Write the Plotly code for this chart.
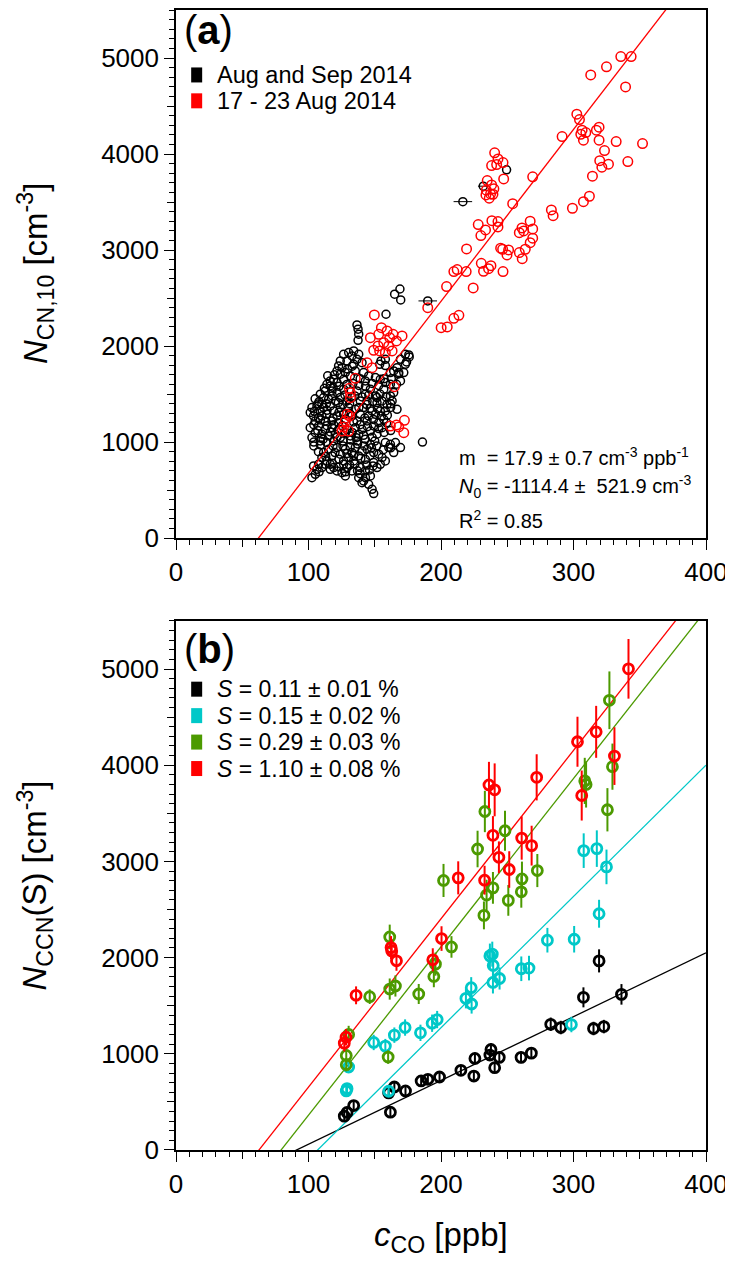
import plotly.graph_objects as go

# ---------------- Panel (a) data ----------------
# (CO [ppb], N_CN,10 [cm-3]) for Aug and Sep 2014 (black)
black_a_pts = [
    (158.5, 2331), (165, 2540), (169, 2594), (169.6, 2480), (136.6, 2220), (137.4, 2175), (137.9, 2123), (137.4, 2060),
    (126.5, 1914), (130.3, 1932), (134.1, 1949), (132.8, 1897), (124, 1845), (129, 1845), (136.6, 1862), (140.4, 1827),
    (134.1, 1810), (137.9, 1914), (122.7, 1793), (173.1, 1914), (175.7, 1907), (169.4, 1862), (173.1, 1810), (154.7, 1845),
    (158, 1862), (153.7, 1810), (176, 1886), (174, 1834), (168, 1709), (158, 1797),
    (166.8, 1775), (164.3, 1741), (168.1, 1723), (161.8, 1723), (141.6, 1723), (145.4, 1689), (142.9, 1637), (150.5, 1671),
    (154.2, 1654), (158, 1619), (113.9, 1602), (116.4, 1637), (119, 1654), (121.5, 1619), (126.5, 1654), (124, 1706),
    (127.8, 1723), (131.6, 1689), (135.3, 1741), (121.5, 1741), (125.3, 1775), (171.9, 1723), (169.4, 1637), (166.4, 1602),
    (161.8, 1602), (112.7, 1532), (111.4, 1463), (110.1, 1393), (117.7, 1532), (115.2, 1446), (121.5, 1515), (124, 1463),
    (120.2, 1428), (126.5, 1550), (129, 1428), (132.8, 1463), (136.6, 1532), (139.1, 1428), (142.9, 1498), (146.7, 1550),
    (150.5, 1480), (144.2, 1428), (151.7, 1411), (156.8, 1550), (164.3, 1515), (161.8, 1480), (163.1, 1428), (151.7, 1463),
    (155.5, 1428), (159.3, 1393), (116.4, 1584), (108.9, 1498),
    (102.6, 1359), (103.8, 1272), (105.1, 1220), (107.6, 1254), (108.9, 1324), (106.4, 1376), (111.4, 1359), (113.9, 1289),
    (116.4, 1376), (119, 1324), (121.5, 1272), (124, 1359), (126.5, 1289), (130.3, 1359), (132.8, 1272), (135.3, 1341),
    (139.1, 1289), (141.6, 1359), (145.4, 1272), (147.9, 1324), (150.5, 1289), (154.2, 1324), (158, 1324), (156.8, 1237),
    (153, 1202), (166.8, 1341), (112.7, 1220), (117.7, 1220), (122.7, 1202), (136.6, 1220), (144.2, 1220), (110.1, 1272),
    (101.3, 1307),
    (101.3, 1150), (105.1, 1098), (102.6, 1046), (107.6, 1168), (110.1, 1081), (112.7, 1133), (115.2, 1063), (117.7, 1150),
    (120.2, 1081), (122.7, 1133), (124, 1046), (135.3, 1150), (137.9, 1081), (140.4, 1133), (142.9, 1029), (146.7, 1115),
    (149.2, 1168), (151.7, 1081), (155.5, 1150), (146.7, 977), (113.9, 994), (108.9, 1011), (119, 1011), (136.6, 1011),
    (131.6, 1063), (127.8, 1098),
    (111.4, 890), (110.1, 838), (115.2, 925), (117.7, 855), (113.9, 803), (116.4, 768), (112.7, 768), (121.5, 942),
    (124, 873), (127.8, 925), (130.3, 838), (132.8, 890), (135.3, 942), (137.9, 855), (140.4, 907), (144.2, 925),
    (149.2, 890), (142.9, 820), (158, 994), (161.8, 977), (165.6, 994), (169.4, 942), (164.3, 890), (160.6, 942),
    (153, 873), (155.5, 838), (107.6, 768), (126.5, 803), (134.1, 803),
    (103.8, 751), (106.4, 716), (105.1, 664), (102.6, 629), (149.2, 786), (154.2, 768), (158, 803), (151.7, 734),
    (148.7, 751), (139.1, 734), (142.9, 699), (146.7, 647), (141.6, 595), (145.4, 560), (148, 508), (149.2, 463),
    (137.9, 629), (140.4, 577), (126.5, 768), (129, 734), (125.3, 681), (127.8, 647), (132.8, 699), (119, 734),
    (121.5, 699), (110.1, 734), (116.4, 716),
    # denser core
    (112, 1560), (118.5, 1570), (123, 1580), (129, 1600), (133.5, 1610), (138, 1590), (143, 1580), (148, 1610),
    (153, 1590), (157, 1660), (162.5, 1660), (114.5, 1690), (119.5, 1700), (129.5, 1760), (133, 1790), (139, 1660),
    (105, 1450), (108, 1420), (113.5, 1400), (118, 1480), (122.5, 1410), (127.5, 1490), (131, 1400), (135, 1480),
    (140.5, 1470), (145.5, 1490), (148.5, 1420), (154, 1500), (158.5, 1470), (162, 1400),
    (104.5, 1320), (109, 1230), (114, 1330), (118.5, 1250), (123, 1310), (128, 1240), (131, 1300), (134, 1210),
    (138, 1360), (142.5, 1250), (146.5, 1350), (149, 1235), (152, 1350), (155, 1270), (159.5, 1280), (162, 1360),
    (107, 1395), (126, 1390), (144, 1390),
    (104, 1180), (107, 1120), (109.5, 1040), (114, 1170), (116.5, 1105), (119, 1180), (121.5, 1050), (125.5, 1170),
    (129, 1130), (133, 1100), (136, 1045), (139, 1180), (141.5, 1070), (144.5, 1160), (148, 1050), (153, 1140),
    (157, 1100), (104, 1000), (111, 1030), (126, 1010), (132, 1020), (150, 1010), (159, 1200), (162, 1120),
    (104, 960), (107.5, 900), (109, 970), (113, 850), (118.5, 960), (120, 890), (123, 820), (126, 960),
    (129, 880), (131.5, 950), (134, 860), (137, 980), (139.5, 830), (142, 960), (146.5, 860), (147.5, 940),
    (151.5, 960), (156.5, 920), (162, 940),
    (108, 690), (118, 780), (123, 740), (128, 690), (131, 760), (135, 770), (137, 700), (144, 760),
    (146, 710), (143, 630), (139, 670),
    # isolated points (last five may carry CO uncertainty)
    (186, 1000), (190, 2470), (216.5, 3504), (231.9, 3665), (249.5, 3835),
]
black_a_co = [p[0] for p in black_a_pts]
black_a_n = [p[1] for p in black_a_pts]
# horizontal (CO) uncertainty, only visible for a few points
black_a_xerr = [0] * (len(black_a_pts) - 5) + [0, 7, 7, 4, 0]

# (CO [ppb], N_CN,10 [cm-3]) for 17 - 23 Aug 2014 (red)
red_a_pts = [
    (335.7, 5015), (343.5, 5015), (324.9, 4908), (313.0, 4824), (339.3, 4699), (302.5, 4415), (304.5, 4359), (306.5, 4248),
    (317.3, 4248), (319.3, 4279), (309.3, 4223), (305.5, 4206), (307.5, 4144), (319.3, 4144), (332.2, 4130), (352.1, 4109),
    (291.4, 4182), (323.4, 4036), (319.8, 3931), (326.4, 3894), (321.4, 3863), (341.0, 3921), (314.3, 3769), (312.0, 3560),
    (307.5, 3504), (299.2, 3435), (283.3, 3418), (284.6, 3358), (269.2, 3762), (254.1, 3483),
    (240.5, 4012), (243.0, 3949), (246.8, 3911), (238.2, 3880), (242.0, 3890), (247.3, 3741), (234.9, 3723), (238.2, 3678),
    (239.9, 3637), (234.2, 3623), (237.4, 3584), (233.9, 3574), (239.2, 3581), (236.4, 3540),
    (238.4, 3306), (243.0, 3296), (243.0, 3241), (228.1, 3265), (233.6, 3209), (230.1, 3150), (219.3, 3011), (267.3, 3300),
    (261.1, 3230), (269.2, 3220), (259.1, 3181), (262.4, 3199), (269.2, 3123), (267.3, 3077), (263.6, 3008), (259.1, 2973),
    (261.3, 2910), (245.0, 3019), (246.5, 3008), (251.0, 3001), (249.8, 2949), (230.4, 2862), (232.1, 2779), (237.7, 2837),
    (235.9, 2806), (246.8, 2775), (219.0, 2775), (212.2, 2796), (209.7, 2775), (204.2, 2619), (224.3, 2605), (190.0, 2400),
    (200.1, 2191), (204.7, 2199), (209.7, 2289), (213.5, 2320), (149.7, 2324), (155.0, 2191), (146.7, 2087), (153.0, 2122),
    (159.3, 2157), (163.8, 2122), (161.3, 2087), (166.4, 2053), (170.6, 2105), (156.8, 2035), (152.5, 2001), (160.5, 2001),
    (163.1, 1949), (149.2, 1956), (153.7, 1949), (158.0, 1931), (144.2, 1827), (148.0, 1775), (135.3, 1664), (130.8, 1560),
    (131.6, 1514), (131.6, 1462), (164.8, 1577), (129.1, 1289), (131.0, 1271), (127.8, 1219), (126.5, 1157), (125.3, 1115),
    (130.3, 1115), (161.8, 1167), (166.4, 1177), (172.4, 1226), (171.9, 1097), (168.1, 1157),
]
red_a_co = [p[0] for p in red_a_pts]
red_a_n = [p[1] for p in red_a_pts]

fit_a_slope = 17.9
fit_a_intercept = -1114.4

# ---------------- Panel (b) data ----------------
blk_co = [127.0, 129.1, 134.1, 160.5, 161.8, 164.8, 173.2, 185.0, 190.1, 198.9, 215.0, 224.8, 225.6, 236.9, 237.7,
          240.5, 244.0, 260.4, 268.2, 282.8, 290.4, 307.5, 315.1, 322.9, 319.3, 336.2]
blk_n = [352, 390, 462, 593, 393, 655, 614, 718, 735, 759, 828, 769, 952, 987, 1045,
         856, 963, 963, 1007, 1307, 1273, 1587, 1263, 1283, 1966, 1618]
blk_err = [50, 50, 50, 50, 50, 50, 50, 50, 50, 50, 55, 55, 60, 60, 65,
           55, 60, 60, 60, 70, 70, 104, 70, 70, 120, 107]

cya_co = [130.3, 129.1, 128.5, 149.2, 158.0, 160.5, 164.8, 172.9, 184.5, 193.3, 197.1, 218.8, 222.8, 223.1, 236.9,
          238.7, 239.4, 239.2, 244.2, 260.6, 266.4, 280.3, 300.5, 298.4, 319.3, 307.7, 317.6, 324.9]
cya_n = [862, 638, 614, 1118, 1080, 611, 1194, 1273, 1218, 1318, 1356, 1576, 1687, 1518, 2018,
         2036, 1918, 1742, 1783, 1884, 1891, 2181, 2191, 1304, 2456, 3112, 3133, 2943]
cya_err = [60, 55, 55, 80, 75, 55, 80, 85, 85, 90, 90, 104, 110, 100, 128,
           130, 120, 115, 115, 128, 128, 128, 138, 80, 145, 180, 190, 180]

grn_co = [130.3, 128.5, 128.5, 146.2, 161.3, 161.3, 165.6, 160.1, 183.2, 194.6, 195.8, 207.9, 232.4, 234.4, 239.2,
          250.8, 260.6, 201.9, 227.6, 233.1, 248.3, 261.1, 272.7, 308.5, 309.5, 325.6, 329.4, 327.1]
grn_n = [1201, 983, 887, 1594, 2215, 1673, 1705, 966, 1622, 1804, 1932, 2111, 2439, 2650, 2725,
         2595, 2684, 2802, 3129, 3519, 3319, 2818, 2905, 3837, 3800, 3537, 3985, 4675]
grn_err = [90, 75, 70, 76, 128, 110, 110, 70, 104, 112, 120, 112, 145, 160, 165,
           160, 165, 172, 190, 215, 207, 180, 172, 240, 240, 225, 240, 300]

red_co = [127.0, 128.3, 135.9, 162.3, 162.8, 166.4, 193.8, 200.4, 213.0, 232.9, 239.2, 243.7, 251.5, 236.2, 240.5,
          260.9, 268.4, 272.2, 303.0, 306.2, 317.1, 330.9, 341.5]
red_n = [1111, 1173, 1608, 2104, 2070, 1967, 1977, 2198, 2829, 2805, 3271, 3043, 2916, 3795, 3744,
         3243, 3164, 3874, 4244, 3685, 4347, 4095, 5002]
red_err = [86, 86, 93, 120, 120, 104, 120, 128, 172, 150, 200, 165, 190, 240, 275,
           225, 207, 240, 260, 260, 270, 300, 310]

# linear fits (slope, intercept) for panel (b)
fit_b = {
    "black": (6.63, -603),
    "cyan": (13.65, -1459),
    "green": (17.5, -1388),
    "red": (17.5, -1096),
}

legend_a = ["Aug and Sep 2014", "17 - 23 Aug 2014"]
legend_b = ["<i>S</i> = 0.11 ± 0.01 %", "<i>S</i> = 0.15 ± 0.02 %",
            "<i>S</i> = 0.29 ± 0.03 %", "<i>S</i> = 1.10 ± 0.08 %"]

# medium (unlabelled) tick positions
x_mid_ticks = [50, 150, 250, 350]
y_mid_ticks = [500, 1500, 2500, 3500, 4500]

# ---------------- colours / styles ----------------
C_BLACK = "#000000"
C_RED = "#FF0000"
C_CYAN = "#00C8C8"
C_GREEN = "#4C9A00"
FONT = "Arial, Liberation Sans, sans-serif"

fig = go.Figure()

# panel (a)
fig.add_trace(go.Scatter(
    x=black_a_co, y=black_a_n, mode="markers", xaxis="x", yaxis="y",
    marker=dict(symbol="circle-open", size=8, color=C_BLACK, line=dict(width=1.5)),
    error_x=dict(type="data", array=black_a_xerr, color=C_BLACK, thickness=1, width=0),
    showlegend=False))
fig.add_trace(go.Scatter(
    x=red_a_co, y=red_a_n, mode="markers", xaxis="x", yaxis="y",
    marker=dict(symbol="circle-open", size=9.5, color=C_RED, line=dict(width=1.5)),
    showlegend=False))
line_x = [0, 400]
fig.add_trace(go.Scatter(
    x=line_x, y=[fit_a_slope * v + fit_a_intercept for v in line_x], mode="lines",
    xaxis="x", yaxis="y", line=dict(color=C_RED, width=1.3), showlegend=False))

# panel (b)
series_b = [
    (blk_co, blk_n, blk_err, C_BLACK, "black"),
    (cya_co, cya_n, cya_err, C_CYAN, "cyan"),
    (grn_co, grn_n, grn_err, C_GREEN, "green"),
    (red_co, red_n, red_err, C_RED, "red"),
]
for co, n, err, col, key in series_b:
    s, b = fit_b[key]
    fig.add_trace(go.Scatter(
        x=line_x, y=[s * v + b for v in line_x], mode="lines", xaxis="x2", yaxis="y2",
        line=dict(color=col, width=1.3), showlegend=False))
for co, n, err, col, key in series_b:
    fig.add_trace(go.Scatter(
        x=co, y=n, mode="markers", xaxis="x2", yaxis="y2",
        marker=dict(symbol="circle-open", size=10, color=col, line=dict(width=2.8)),
        error_y=dict(type="data", array=err, color=col, thickness=2, width=0),
        showlegend=False))

# empty traces that carry the overlay axes used for the medium ticks
for xa_id, ya_id in (("x3", "y3"), ("x4", "y4")):
    fig.add_trace(go.Scatter(x=[None], y=[None], mode="markers", xaxis=xa_id, yaxis=ya_id,
                             showlegend=False, hoverinfo="skip"))

axis_common = dict(
    showline=True, linecolor="black", linewidth=1.6, mirror=True,
    showgrid=False, zeroline=False, ticks="outside", tickcolor="black",
    tickwidth=1.3, ticklen=10, tickfont=dict(family=FONT, size=26, color="black"),
)
xa = dict(axis_common, range=[0, 400], tickmode="linear", tick0=0, dtick=100,
          minor=dict(dtick=10, tick0=0, ticks="outside", ticklen=5, tickwidth=1, tickcolor="black"))
ya = dict(axis_common, range=[0, 5500], tickmode="linear", tick0=0, dtick=1000,
          minor=dict(dtick=100, tick0=0, ticks="outside", ticklen=5, tickwidth=1, tickcolor="black"))
mid_common = dict(showline=False, showgrid=False, zeroline=False, ticks="outside", tickcolor="black",
                  tickwidth=1.2, ticklen=8, showticklabels=False, tickmode="array")

DOM_A = [0.5368, 1]
DOM_B = [0, 0.4641]

# the page body adds an 8 px offset; the figure is sized to fill the rest of the window
fig.update_layout(
    width=725, height=1253,
    margin=dict(l=168, r=27, t=0, b=111),
    paper_bgcolor="white", plot_bgcolor="white",
    font=dict(family=FONT, color="black"),
    xaxis=dict(xa, domain=[0, 1], anchor="y"),
    yaxis=dict(ya, domain=DOM_A, anchor="x"),
    xaxis2=dict(xa, domain=[0, 1], anchor="y2"),
    yaxis2=dict(ya, domain=DOM_B, anchor="x2"),
    xaxis3=dict(mid_common, range=[0, 400], tickvals=x_mid_ticks, overlaying="x", anchor="y3", side="bottom"),
    yaxis3=dict(mid_common, range=[0, 5500], tickvals=y_mid_ticks, overlaying="y", anchor="x3", side="left"),
    xaxis4=dict(mid_common, range=[0, 400], tickvals=x_mid_ticks, overlaying="x2", anchor="y4", side="bottom"),
    yaxis4=dict(mid_common, range=[0, 5500], tickvals=y_mid_ticks, overlaying="y2", anchor="x4", side="left"),
)

ann = []
shapes = []
# panel labels
ann.append(dict(text="(<b>a</b>)", xref="x domain", yref="y domain", x=0.012, y=0.963,
                xanchor="left", yanchor="middle", showarrow=False, font=dict(size=40, family=FONT)))
ann.append(dict(text="(<b>b</b>)", xref="x2 domain", yref="y2 domain", x=0.012, y=0.947,
                xanchor="left", yanchor="middle", showarrow=False, font=dict(size=40, family=FONT)))

# legends (drawn as squares + text)
leg_a_y = [0.877, 0.828]
for txt, col, yy in zip(legend_a, [C_BLACK, C_RED], leg_a_y):
    shapes.append(dict(type="rect", xref="x domain", yref="y domain", xsizemode="pixel", ysizemode="pixel",
                       xanchor=0.039, yanchor=yy, x0=-5.5, x1=5.5, y0=-7.5, y1=7.5,
                       fillcolor=col, line=dict(width=0)))
    ann.append(dict(text=txt, xref="x domain", yref="y domain", x=0.074, y=yy, xanchor="left",
                    yanchor="middle", showarrow=False, font=dict(size=23.5, family=FONT)))
leg_b_y = [0.871, 0.821, 0.771, 0.721]
for txt, col, yy in zip(legend_b, [C_BLACK, C_CYAN, C_GREEN, C_RED], leg_b_y):
    shapes.append(dict(type="rect", xref="x2 domain", yref="y2 domain", xsizemode="pixel", ysizemode="pixel",
                       xanchor=0.039, yanchor=yy, x0=-5.5, x1=5.5, y0=-7.5, y1=7.5,
                       fillcolor=col, line=dict(width=0)))
    ann.append(dict(text=txt, xref="x2 domain", yref="y2 domain", x=0.074, y=yy, xanchor="left",
                    yanchor="middle", showarrow=False, font=dict(size=23, family=FONT)))

# fit statistics panel (a)
stats = ["m  = 17.9 ± 0.7 cm<sup>-3</sup> ppb<sup>-1</sup>",
         "<i>N</i><sub>0</sub> = -1114.4 ±  521.9 cm<sup>-3</sup>",
         "R<sup>2</sup> = 0.85"]
for txt, yy in zip(stats, [0.155, 0.098, 0.036]):
    ann.append(dict(text=txt, xref="x domain", yref="y domain", x=0.53, y=yy, xanchor="left",
                    yanchor="middle", showarrow=False, font=dict(size=20, family=FONT)))

# axis titles
ann.append(dict(text="<i>N</i><sub>CN,10</sub> [cm<sup>-3</sup>]", xref="paper", yref="y domain",
                x=-0.266, y=0.5, xanchor="center", yanchor="middle", textangle=-90, showarrow=False,
                font=dict(size=33, family=FONT)))
ann.append(dict(text="<i>N</i><sub>CCN</sub>(S) [cm<sup>-3</sup>]", xref="paper", yref="y2 domain",
                x=-0.266, y=0.5, xanchor="center", yanchor="middle", textangle=-90, showarrow=False,
                font=dict(size=33, family=FONT)))
ann.append(dict(text="<i>c</i><sub>CO</sub> [ppb]", xref="x2 domain", yref="y2 domain",
                x=0.5, y=-0.165, xanchor="center", yanchor="middle", showarrow=False,
                font=dict(size=33, family=FONT)))

fig.update_layout(annotations=ann, shapes=shapes)
fig.write_html("out.html")
